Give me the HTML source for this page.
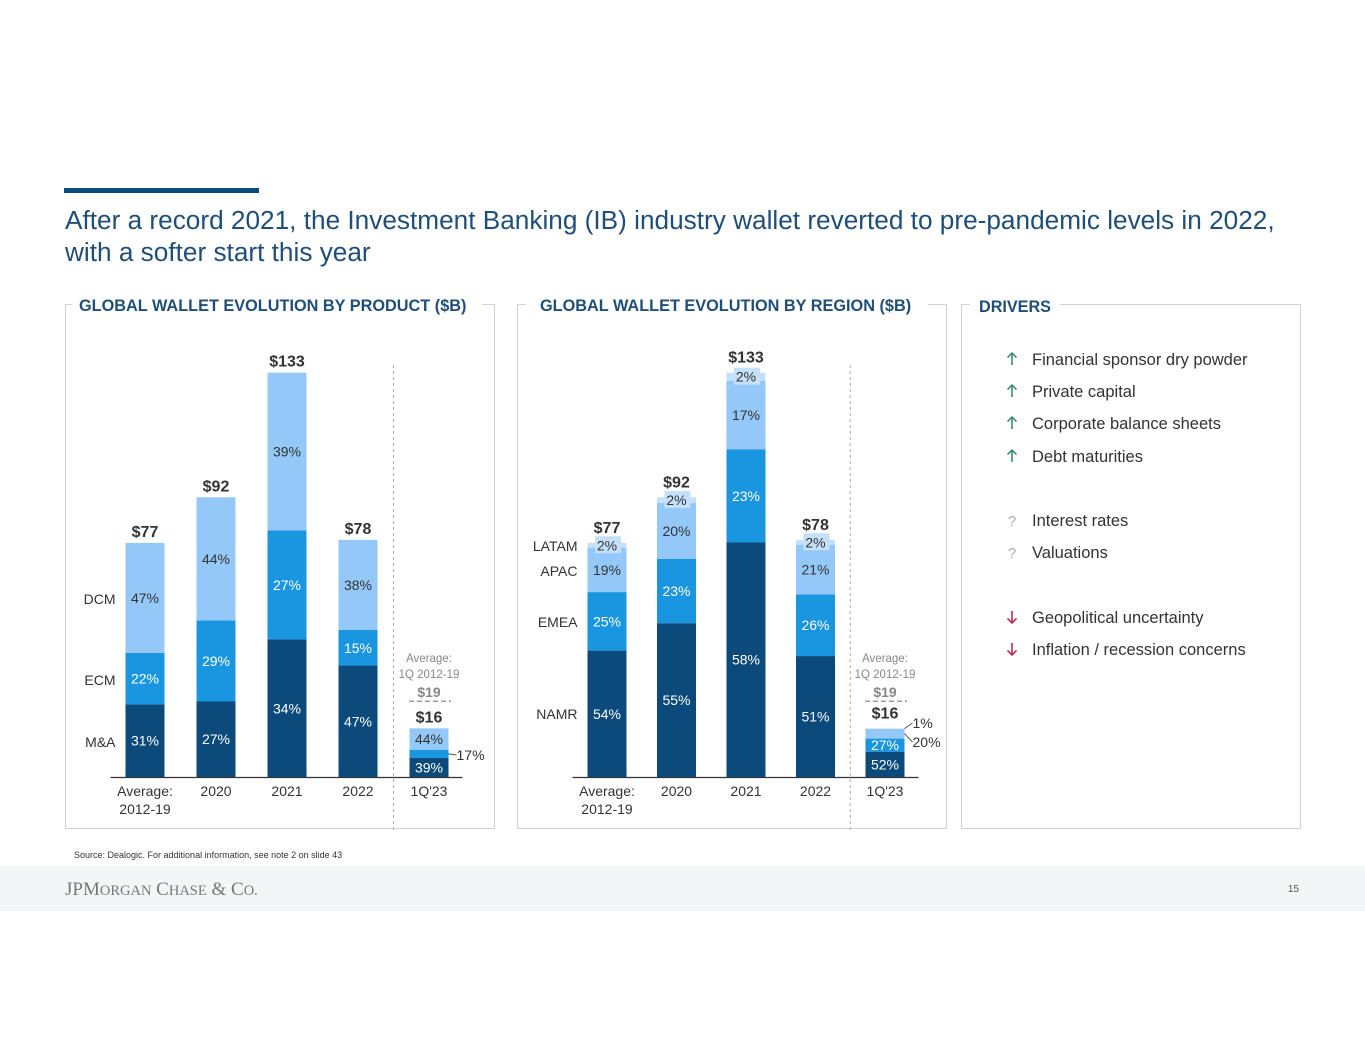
<!DOCTYPE html>
<html><head><meta charset="utf-8"><style>
body{margin:0;background:#fff;}
svg text{font-family:"Liberation Sans",Arial,sans-serif;}
</style></head><body>
<svg id="s" width="1365" height="1055" viewBox="0 0 1365 1055" xmlns="http://www.w3.org/2000/svg">
<rect x="64" y="188" width="195" height="5" fill="#0b4a7a"/>
<text x="65" y="229" font-size="26.2" fill="#1f4e79">After a record 2021, the Investment Banking (IB) industry wallet reverted to pre-pandemic levels in 2022,</text>
<text x="65" y="261" font-size="26.2" fill="#1f4e79">with a softer start this year</text>

<g>
<rect x="65.5" y="304.5" width="429" height="524" fill="none" stroke="#d3d3d3"/>
<rect x="72" y="294" width="410" height="22" fill="#fff"/>
<text x="79" y="311" font-size="16.3" font-weight="bold" fill="#1f4e79">GLOBAL WALLET EVOLUTION BY PRODUCT ($B)</text>
</g>
<g>
<rect x="517.5" y="304.5" width="429" height="524" fill="none" stroke="#d3d3d3"/>
<rect x="526" y="294" width="402" height="22" fill="#fff"/>
<text x="540" y="311" font-size="16.3" font-weight="bold" fill="#1f4e79">GLOBAL WALLET EVOLUTION BY REGION ($B)</text>
</g>
<g>
<rect x="961.5" y="304.5" width="339" height="524" fill="none" stroke="#d3d3d3"/>
<rect x="970" y="294" width="90" height="22" fill="#fff"/>
<text x="979" y="312" font-size="16.2" font-weight="bold" fill="#1f4e79">DRIVERS</text>
</g>
<g id="drivers"></g>

<text x="74" y="858" font-size="9" fill="#333">Source: Dealogic. For additional information, see note 2 on slide 43</text>
<rect x="0" y="866" width="1365" height="45" fill="#f4f5f7"/>
<text x="65" y="895" font-size="19" fill="#777" style="font-family:'Liberation Serif',serif">JPM<tspan font-size="14.5">ORGAN</tspan> C<tspan font-size="14.5">HASE</tspan> &amp; C<tspan font-size="14.5">O.</tspan></text>
<text x="1299" y="892" font-size="10" fill="#555" text-anchor="end">15</text>
<g id="charts"></g>
</svg>
<script>
const categories = ["Average:|2012-19","2020","2021","2022","1Q'23"];
const productTotals = [77,92,133,78,16];
const productTotalLabels = ["$77","$92","$133","$78","$16"];
const maShare = [31,27,34,47,39];
const ecmShare = [22,29,27,15,17];
const dcmShare = [47,44,39,38,44];
const regionTotals = [77,92,133,78,16];
const namrShare = [54,55,58,51,52];
const emeaShare = [25,23,23,26,27];
const apacShare = [19,20,17,21,20];
const latamShare = [2,2,2,2,1];
const avgQ1 = 19;

const NS="http://www.w3.org/2000/svg";
const C=document.getElementById('charts');
function el(tag,at,parent,txt){const e=document.createElementNS(NS,tag);for(const k in at)e.setAttribute(k,at[k]);if(txt!=null)e.textContent=txt;(parent||C).appendChild(e);return e;}
const base=777, k=3.04;
function yv(v){return base-v*k;}
const dark="#0b4a7a", mid="#1a95e0", light="#93c8f8", lightest="#c4e0fa";

function chart(x0,step,segs,totals,labels,sideNames,sideY,name){
  const g=el('g',{});
  
  
  const bw=39;
  el('line',{x1:x0-bw/2-15,x2:x0+4*step+bw/2+14,y1:base+0.5,y2:base+0.5,stroke:'#333','stroke-width':1.3},g);
  const dx=x0+3.5*step;
  const dl=el('line',{x1:dx,x2:dx,y1:365,y2:830,stroke:'#aaa','stroke-dasharray':'3,3'},g);
  
  
  categories.forEach((c,i)=>{
    const cx=x0+i*step; let cum=0; const T=totals[i];
    segs.forEach((s,j)=>{
      const v=T*s.data[i]/100;
      const r=el('rect',{x:cx-bw/2,y:yv(cum+v),width:bw,height:v*k,fill:s.color},g);
      
      
      const my=yv(cum+v/2);
      let tx=cx, ty=my+5, anchor='middle', fill=s.text;
      if(s.outside && s.outside[i]){
        const lx=cx+bw/2;
        el('line',{x1:lx,y1:my,x2:lx+8,y2:s.outside[i]-5,stroke:'#555'},g);
        tx=lx+8; ty=s.outside[i]; anchor='start'; fill='#333';
      } else if(s.box){
        el('rect',{x:cx-12,y:my-9,width:26,height:17,fill:lightest},g);
        ty=my+5;
      }
      const t=el('text',{x:tx,y:ty,'font-size':14,'text-anchor':anchor,fill:fill},g,s.data[i]+'%');
      
      
      cum+=v;
    });
    const tt=el('text',{x:cx,y:yv(T)-(segs[segs.length-1].box?10:6),'font-size':16,'font-weight':'bold','text-anchor':'middle',fill:'#333'},g,labels[i]);
    
    
    const parts=c.split('|');
    parts.forEach((p,m)=>{const ct=el('text',{x:cx,y:796+m*18,'font-size':14,'text-anchor':'middle',fill:'#333'},g,p);
      
      });
  });
  sideNames.forEach((n,i)=>{const st=el('text',{x:x0-bw/2-10,y:sideY[i],'font-size':14,'text-anchor':'end',fill:'#333'},g,n);
    
    });
  const ax=x0+4*step, ay=yv(avgQ1)-19;
  el('text',{x:ax,y:ay-38,'font-size':11.5,'text-anchor':'middle',fill:'#888'},g,'Average:');
  el('text',{x:ax,y:ay-22,'font-size':11.5,'text-anchor':'middle',fill:'#888'},g,'1Q 2012-19');
  const a=el('text',{x:ax,y:ay-3,'font-size':14,'font-weight':'bold','text-anchor':'middle',fill:'#888'},g,'$'+avgQ1);
  
  
  const al=el('line',{x1:ax-20,x2:ax+22,y1:ay+1,y2:ay+1,stroke:'#888','stroke-width':1.3,'stroke-dasharray':'5,3'},g);
  
  
}
chart(145,71,[
  {key:'ma',data:maShare,color:dark,text:'#fff'},
  {key:'ecm',data:ecmShare,color:mid,text:'#fff',outside:[0,0,0,0,760]},
  {key:'dcm',data:dcmShare,color:light,text:'#333'}],
  productTotals,productTotalLabels,['DCM','ECM','M&A'],[604,685,747],'product-chart');
chart(607,69.5,[
  {key:'namr',data:namrShare,color:dark,text:'#fff'},
  {key:'emea',data:emeaShare,color:mid,text:'#fff'},
  {key:'apac',data:apacShare,color:light,text:'#333',outside:[0,0,0,0,747]},
  {key:'latam',data:latamShare,color:lightest,text:'#333',box:true,outside:[0,0,0,0,728]}],
  regionTotals,productTotalLabels,['LATAM','APAC','EMEA','NAMR'],[551,576,627,719],'region-chart');

const drivers=[["up","Financial sponsor dry powder",359],["up","Private capital",391],["up","Corporate balance sheets",423],["up","Debt maturities",456],["q","Interest rates",520],["q","Valuations",552],["down","Geopolitical uncertainty",617],["down","Inflation / recession concerns",649]];
const D=document.getElementById('drivers');
drivers.forEach(d=>{
  const col=d[0]=='up'?'#2e8a5a':d[0]=='down'?'#c0194a':'#aaa';
  const cx=1012, cy=d[2];
  if(d[0]=='q'){
    el('text',{x:cx,y:cy+6,'font-size':15,'text-anchor':'middle',fill:col},D,'?');
  } else {
    const s=d[0]=='up'?-1:1;
    el('path',{d:`M${cx} ${cy-6*s} L${cx} ${cy+6*s} M${cx-4.5} ${cy+1.5*s} L${cx} ${cy+6*s} L${cx+4.5} ${cy+1.5*s}`,stroke:col,'stroke-width':1.5,fill:'none'},D);
  }
  const t=el('text',{x:1032,y:cy+6,'font-size':16.5,fill:'#333'},D,d[1]);
  
  
});
</script>
</body></html>
